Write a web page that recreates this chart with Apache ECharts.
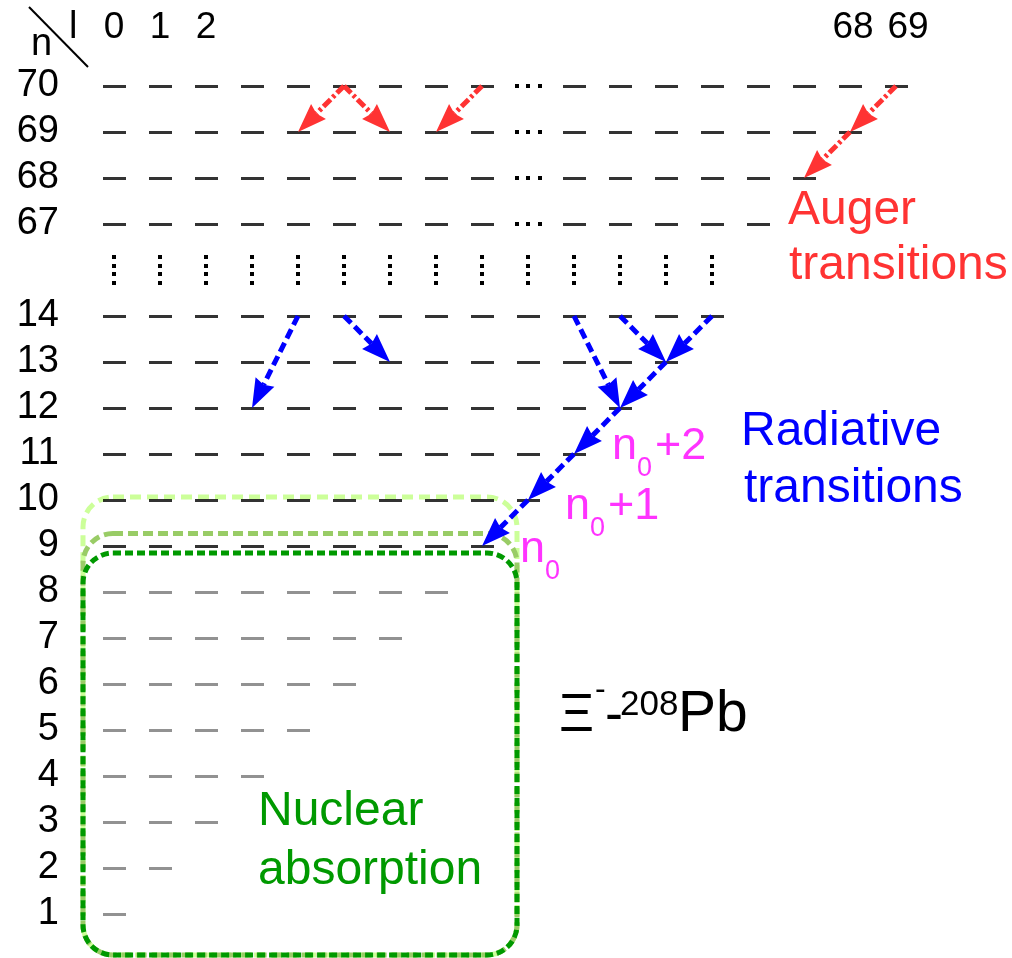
<!DOCTYPE html>
<html>
<head>
<meta charset="utf-8">
<script src="https://cdn.jsdelivr.net/npm/echarts@6/dist/echarts.min.js"></script>
<style>
  html, body { margin: 0; padding: 0; background: #fff; }
  #chart { width: 1012px; height: 958px; }
</style>
</head>
<body>
<div id="chart"></div>
<script>
// Shells drawn in the level scheme (the range between 67 and 14 is elided)
const upperN = [70, 69, 68, 67];
const lowerN = [14, 13, 12, 11, 10, 9, 8, 7, 6, 5, 4, 3, 2, 1];
// Orbital angular momenta shown for the upper shells: the first and the last few
const upperLowL = [0, 1, 2, 3, 4, 5, 6, 7, 8];
const upperHighL = [62, 63, 64, 65, 66, 67, 68, 69];
// Column headings (l values)
const headerL = [0, 1, 2, 68, 69];
// Auger transitions: [n from, l from, n to, l to]
const augerTransitions = [
  [70, 5, 69, 4], [70, 5, 69, 6], [70, 8, 69, 7],
  [70, 69, 69, 68], [69, 68, 68, 67]
];
// Radiative transitions: [n from, l from, n to, l to]
const radiativeTransitions = [
  [14, 4, 12, 3], [14, 5, 13, 6], [14, 10, 12, 11], [14, 11, 13, 12],
  [14, 13, 13, 12], [13, 12, 12, 11], [12, 11, 11, 10], [11, 10, 10, 9], [10, 9, 9, 8]
];
// Highest shell enclosed by each nuclear-absorption region (n0+1, n0, below n0)
const absorptionTopN = [10, 9, 8];
// Shells below this one are drawn grey (deeply bound, absorbed)
const greyBelowN = 9;

// --- grid placement of shells and l columns ---
const GAP_ROW = 4;          // row of the vertical ellipsis between n=67 and n=14
const H_ELLIPSIS_COL = 9;   // column of the horizontal ellipsis in the upper shells
function rowOf(n) { return n >= 67 ? 70 - n : GAP_ROW + 1 + (14 - n); }
function colOf(n, l) { return (n >= 67 && l >= 62) ? l - 52 : l; }

const blackLevels = [], greyLevels = [];
function addLevel(n, l) {
  const pt = [colOf(n, l), rowOf(n)];
  (n >= greyBelowN ? blackLevels : greyLevels).push(pt);
}
upperN.forEach(n => upperLowL.concat(upperHighL).forEach(l => { if (l < n) addLevel(n, l); }));
lowerN.forEach(n => { for (let l = 0; l < n; l++) addLevel(n, l); });

// ellipsis marks: [col, row, orientation 0 = horizontal, 1 = vertical]
const ellipses = [];
upperN.forEach(n => ellipses.push([H_ELLIPSIS_COL, rowOf(n), 0]));
for (let c = 0; c < lowerN[0]; c++) ellipses.push([c, GAP_ROW, 1]);

const FONT = '"Liberation Sans", Arial, sans-serif';
const RED = '#ff3333', BLUE = '#0000ff', PINK = '#ff33ff', GREEN = '#009900';

function arrowSeries(list, color, dash) {
  return {
    type: 'custom', coordinateSystem: 'cartesian2d', silent: true, z: 6,
    data: list.map(t => [colOf(t[0], t[1]), rowOf(t[0]), colOf(t[2], t[3]), rowOf(t[2])]),
    encode: { x: [0, 2], y: [1, 3] },
    renderItem(params, api) {
      const a = api.coord([api.value(0), api.value(1)]);
      const b = api.coord([api.value(2), api.value(3)]);
      const dx = b[0] - a[0], dy = b[1] - a[1], len = Math.hypot(dx, dy);
      const ux = dx / len, uy = dy / len;
      const HL = 29, HW = 10.5;
      const bx = b[0] - ux * HL, by = b[1] - uy * HL;
      return {
        type: 'group',
        children: [
          { type: 'line', shape: { x1: a[0], y1: a[1], x2: bx + ux * 3, y2: by + uy * 3 },
            style: { stroke: color, lineWidth: 5, lineDash: dash, fill: null } },
          { type: 'polygon',
            shape: { points: [[b[0], b[1]], [bx - uy * HW, by + ux * HW], [bx + ux * 3, by + uy * 3], [bx + uy * HW, by - ux * HW]] },
            style: { fill: color } }
        ]
      };
    }
  };
}

// nuclear-absorption regions, from the outermost (lightest) to the innermost
const boxLook = [
  { color: '#ccff99', dash: [11, 6], topPad: 3 },
  { color: '#99cc66', dash: [10, 5], topPad: 12.5 },
  { color: '#009900', dash: [8, 4], topPad: 39 }
];

const chart = echarts.init(document.getElementById('chart'), null, { renderer: 'canvas' });
const W = 1012, H = 958, STEP = 46, X0 = 114, Y0 = 86;

function nLabel(x, baseline, suffix) {
  const fs = 45, sfs = 27;
  const els = [
    { type: 'text', x: x, y: baseline - 0.3465 * fs, silent: true,
      style: { text: 'n', font: fs + 'px ' + FONT, fill: PINK, align: 'left', verticalAlign: 'middle' } },
    { type: 'text', x: x + 0.556 * fs, y: baseline + 16 - 0.3465 * sfs, silent: true,
      style: { text: '0', font: sfs + 'px ' + FONT, fill: PINK, align: 'left', verticalAlign: 'middle' } }
  ];
  if (suffix) els.push({ type: 'text', x: x + 0.556 * fs + 0.556 * sfs + 3, y: baseline - 0.3465 * fs, silent: true,
      style: { text: suffix, font: fs + 'px ' + FONT, fill: PINK, align: 'left', verticalAlign: 'middle' } });
  return els;
}
function txt(str, x, baseline, fs, color) {
  return { type: 'text', x: x, y: baseline - 0.3465 * fs, silent: true,
    style: { text: str, font: fs + 'px ' + FONT, fill: color, align: 'left', verticalAlign: 'middle' } };
}

const graphics = [
  { type: 'line', shape: { x1: 29, y1: 7, x2: 88, y2: 67 }, style: { stroke: '#000', lineWidth: 2 }, silent: true },
  txt('n', 31, 58, 38, '#000'),
  txt('l', 69, 41, 38, '#000'),
  txt('Auger', 788, 227, 48, RED),
  txt('transitions', 789, 282, 48, RED),
  txt('Radiative', 741, 448, 48, BLUE),
  txt('transitions', 744, 505, 48, BLUE),
  txt('Nuclear', 258, 828, 48, GREEN),
  txt('absorption', 258, 887, 48, GREEN),
  txt('\u039E', 559, 735, 54, '#000'),
  txt('-', 595, 701, 32, '#000'),
  txt('-', 605, 735, 54, '#000'),
  txt('208', 620, 717, 35, '#000'),
  txt('Pb', 678, 735, 57, '#000')
].concat(nLabel(612, 462, '+2'), nLabel(565, 522, '+1'), nLabel(520, 565, ''));

chart.setOption({
  animation: false,
  backgroundColor: '#fff',
  grid: { left: 0, right: 0, top: 0, bottom: 0 },
  xAxis: { type: 'value', min: -X0 / STEP, max: (W - X0) / STEP, show: false },
  yAxis: { type: 'value', inverse: true, min: -Y0 / STEP, max: (H - Y0) / STEP, show: false },
  graphic: graphics,
  series: [
    {
      type: 'custom', coordinateSystem: 'cartesian2d', silent: true, z: 1,
      data: absorptionTopN.map(n => [0, rowOf(n), 8, rowOf(1)]),
      encode: { x: [0, 2], y: [1, 3] },
      renderItem(params, api) {
        const look = boxLook[params.dataIndex];
        const tl = api.coord([api.value(0), api.value(1)]);
        const br = api.coord([api.value(2), api.value(3)]);
        const x = tl[0] - 31, y = tl[1] - look.topPad;
        return {
          type: 'rect',
          shape: { x: x, y: y, width: br[0] + 35 - x, height: br[1] + 41 - y, r: 30 },
          style: { fill: null, stroke: look.color, lineWidth: 5, lineDash: look.dash }
        };
      }
    },
    {
      type: 'scatter', data: blackLevels, symbol: 'rect', symbolSize: [23, 3], symbolOffset: [0.5, 0.5],
      itemStyle: { color: '#000' }, silent: true, z: 3
    },
    {
      type: 'scatter', data: greyLevels, symbol: 'rect', symbolSize: [23, 3], symbolOffset: [0.5, 0.5],
      itemStyle: { color: '#777777' }, silent: true, z: 3
    },
    {
      type: 'custom', coordinateSystem: 'cartesian2d', silent: true, z: 3,
      data: ellipses,
      renderItem(params, api) {
        const p = api.coord([api.value(0), api.value(1)]);
        const kids = [];
        if (api.value(2) === 0) {
          [-11.5, 0, 11.5].forEach(d => kids.push({ type: 'rect', shape: { x: Math.round(p[0] + d - 2), y: p[1] - 2, width: 4, height: 4 }, style: { fill: '#000' } }));
        } else {
          [-12.6, -4.2, 4.2, 12.6].forEach(d => kids.push({ type: 'rect', shape: { x: p[0] - 2, y: Math.round(p[1] + d - 2), width: 4, height: 4 }, style: { fill: '#000' } }));
        }
        return { type: 'group', children: kids };
      }
    },
    {
      // shell labels n
      type: 'custom', coordinateSystem: 'cartesian2d', silent: true, z: 4,
      data: upperN.concat(lowerN).map(n => [0, rowOf(n), n]),
      renderItem(params, api) {
        const p = api.coord([api.value(0), api.value(1)]);
        return { type: 'text', x: p[0] - 55, y: p[1], style: {
          text: String(api.value(2)), font: '38px ' + FONT, fill: '#000', align: 'right', verticalAlign: 'middle' } };
      }
    },
    {
      // column headings l
      type: 'custom', coordinateSystem: 'cartesian2d', silent: true, z: 4,
      data: headerL.map(l => [colOf(70, l), rowOf(70), l]),
      renderItem(params, api) {
        const p = api.coord([api.value(0), api.value(1)]);
        const l = api.value(2);
        const shift = l >= 62 ? (l === 69 ? 12 : 3) : 0;
        return { type: 'text', x: p[0] + shift, y: p[1] - 58, style: {
          text: String(l), font: '37px ' + FONT, fill: '#000', align: 'center', verticalAlign: 'middle' } };
      }
    },
    arrowSeries(augerTransitions, RED, [10, 3, 3, 3]),
    arrowSeries(radiativeTransitions, BLUE, [10, 5])
  ]
});
</script>
</body>
</html>
